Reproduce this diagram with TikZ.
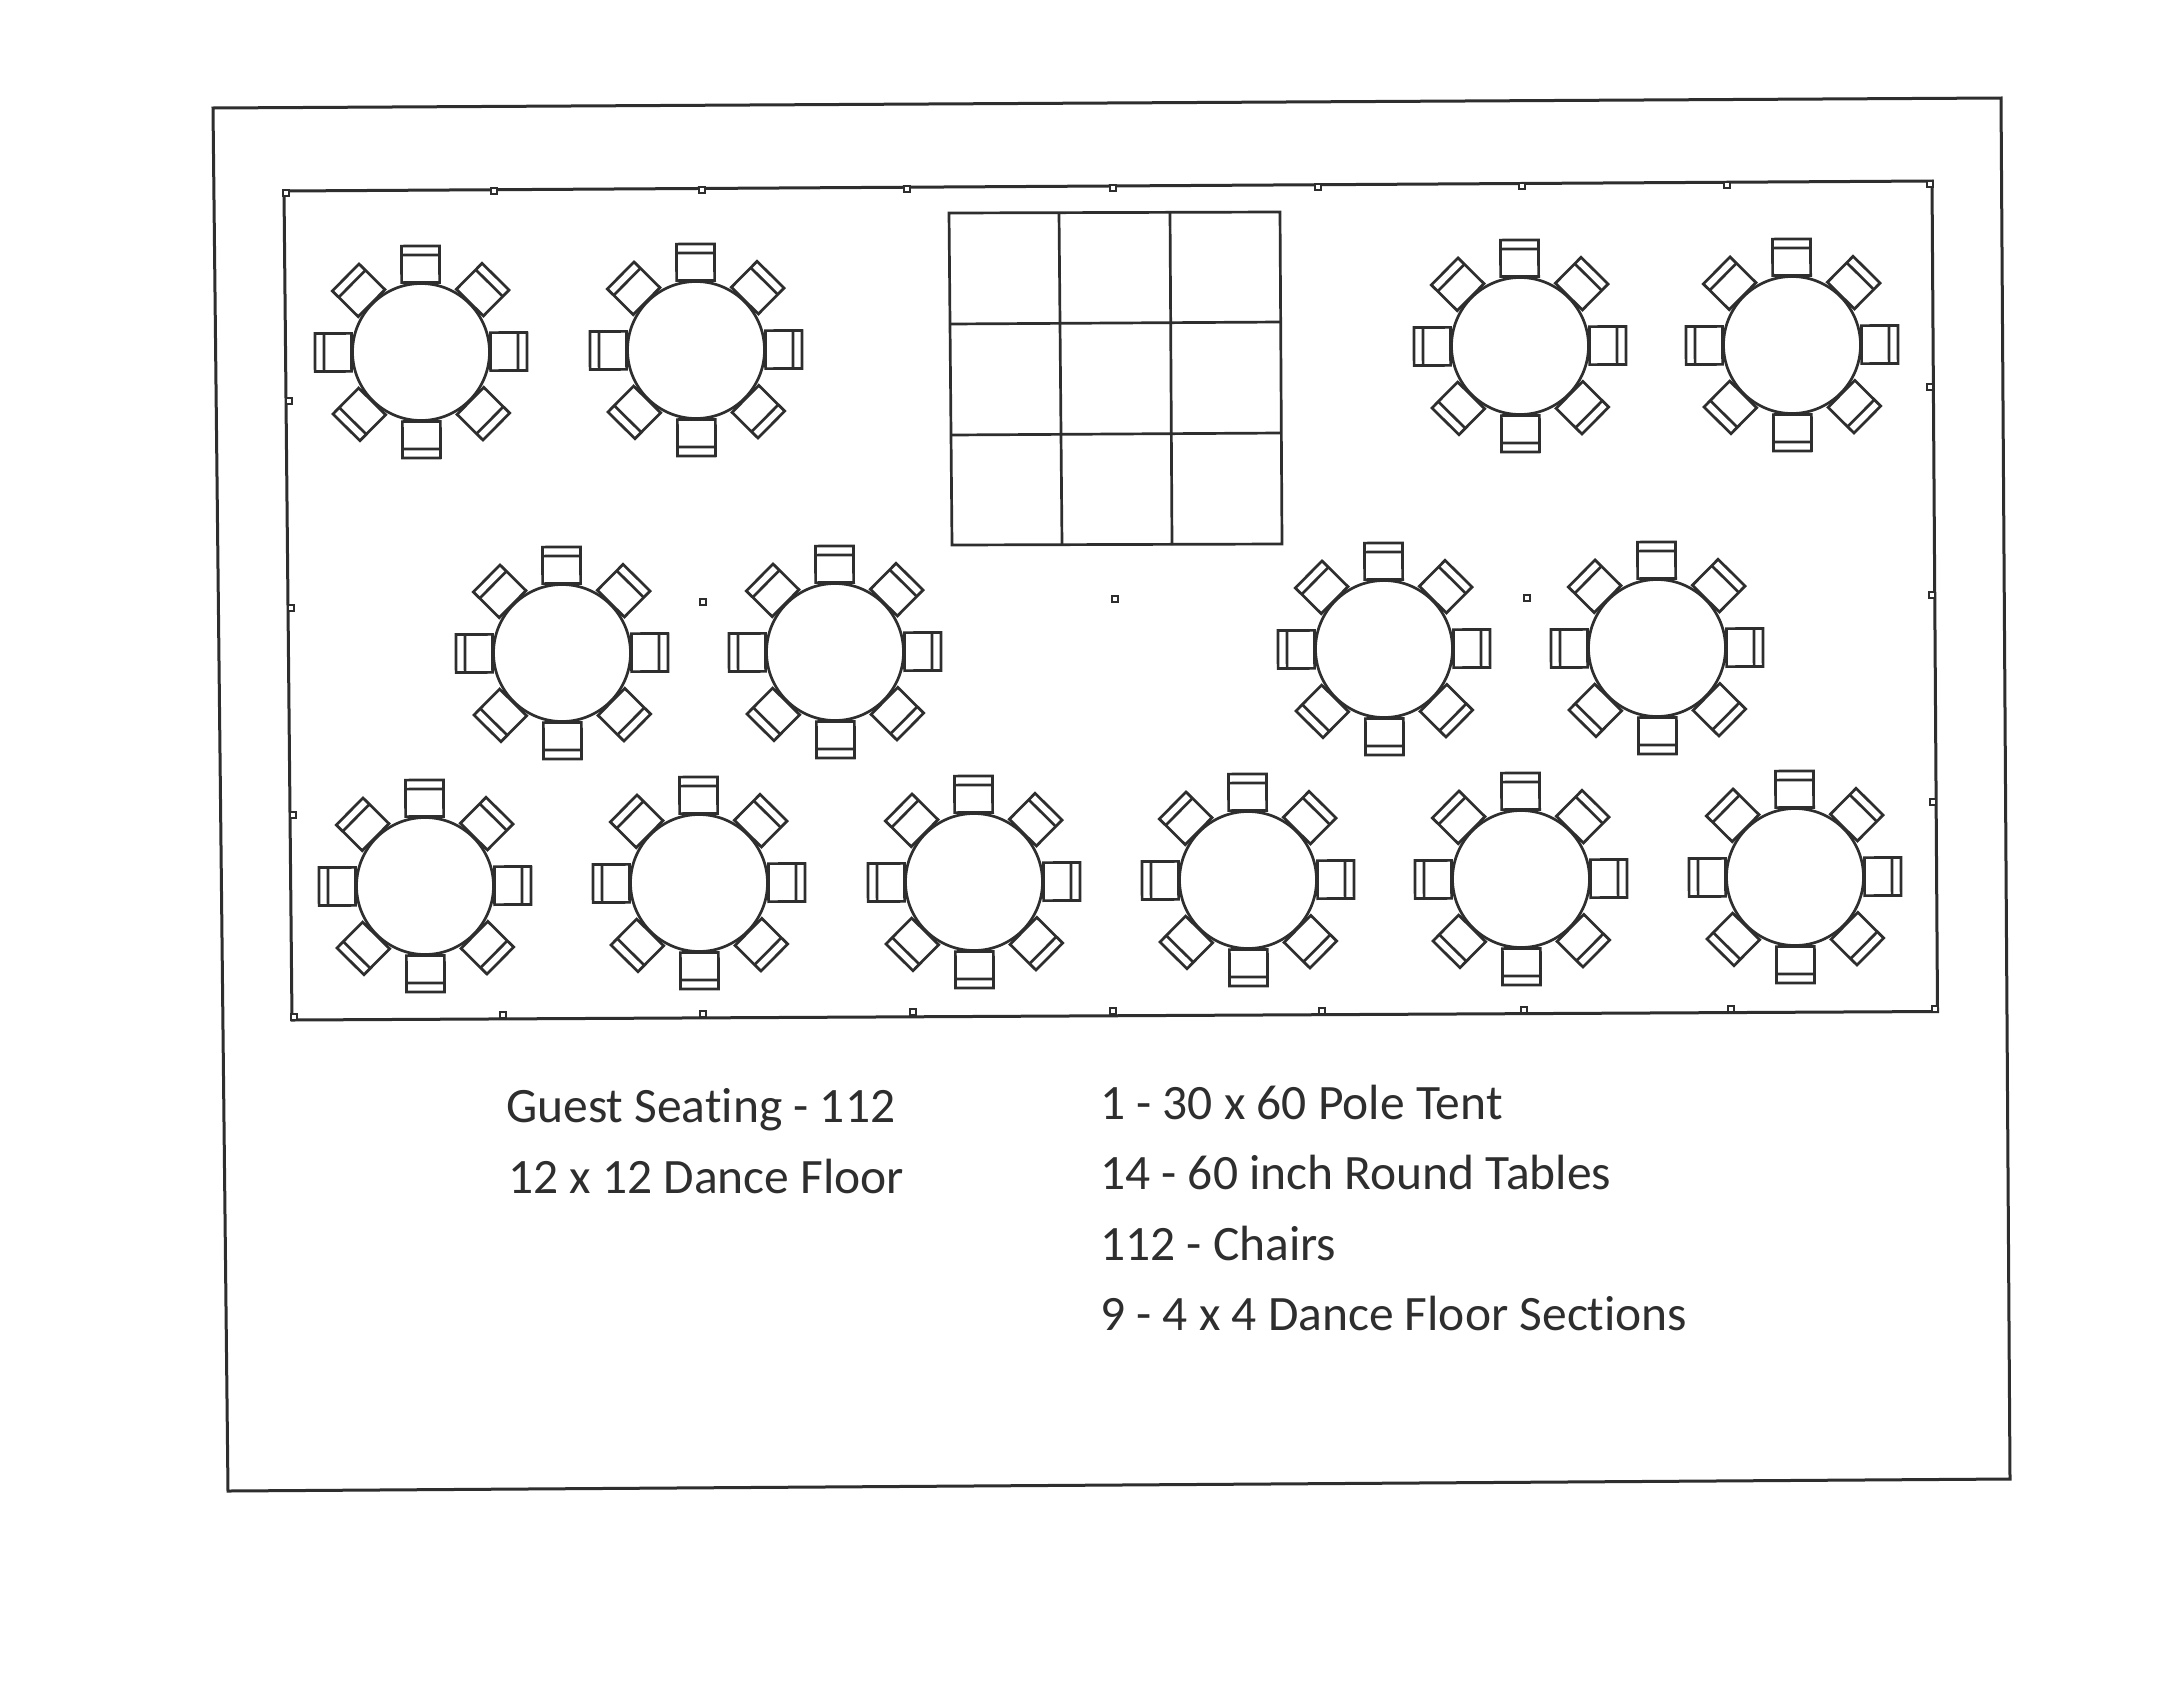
\documentclass[tikz,border=0pt]{standalone}
\usepackage{fontspec}
\setmainfont[Ligatures=NoCommon]{Carlito}
\definecolor{ink}{HTML}{2E2E2E}
\tikzset{
  x=1pt,y=-1pt,
  tentline/.style={draw=ink,line width=3pt,line join=miter},
  seatline/.style={draw=ink,line width=2.7pt},
  floorline/.style={draw=ink,line width=2.7pt},
  polebox/.style={draw=ink,line width=2.2pt,fill=white},
  label/.style={text=ink,font=\fontsize{49.5}{49.5}\selectfont,anchor=base west,inner sep=0pt},
}
\newcommand{\polemark}[2]{\draw[polebox] (#1-2.7,#2-2.7) rectangle (#1+2.7,#2+2.7);}
\newcommand{\seat}[2]{%
  \foreach \ang in {0,45,...,315}{%
    \begin{scope}[shift={(#1,#2)},rotate=\ang+0.3]
      \draw[seatline] (69.5,-19) rectangle (106,19);
      \draw[seatline] (97,-19) -- (97,19);
    \end{scope}}%
  \draw[seatline,fill=white] (#1,#2) circle[radius=68.5];}
\begin{document}
\begin{tikzpicture}
\useasboundingbox (0,0) rectangle (2170,1700);
\fill[white] (0,0) rectangle (2170,1700);
% outer frame
\draw[tentline] (213,108) -- (2001,98) -- (2010,1479) -- (228,1491) -- cycle;
% tent
\draw[tentline] (284,191) -- (1932,181) -- (1937.5,1011.5) -- (292,1020) -- cycle;
% poles
\foreach \px/\py in {286/193,494/191,702/190,907/189,1113/188,1318/187,1522/186,1727/185,1930/184,
  294/1017,503/1015,703/1014,913/1012,1113/1011,1322/1011,1524/1010,1731/1009,1935/1009,
  289/401,291/608,293/815,1930/387,1932/595,1933/802,
  703/602,1115/599,1527/598}{\polemark{\px}{\py}}
% dance floor
\draw[floorline] (949,213) -- (1280,212) -- (1282,544) -- (952,545) -- cycle;
\draw[floorline] (1059,213) -- (1062,545);
\draw[floorline] (1170,212) -- (1172,545);
\draw[floorline] (950,324) -- (1281,322);
\draw[floorline] (951,435) -- (1281,433);
% tables
\foreach \tx/\ty in {421/352,696/350,1520/346,1792/345,
  562/653,835/652,1384/649,1657/648,
  425/886,699/883,974/882,1248/880,1521/879,1795/877}{\seat{\tx}{\ty}}
% labels
\node[label] (a) at (506,1122) {Guest Seating - 112};
\node[label] (b) at (508,1193) {12 x 12 Dance Floor};
\node[label] (c) at (1100,1119) {1 - 30 x 60 Pole Tent};
\node[label] (d) at (1100,1189) {14 - 60 inch Round Tables};
\node[label] (e) at (1100,1260) {112 - Chairs};
\node[label] (f) at (1100,1330) {9 - 4 x 4 Dance Floor Sections};
\end{tikzpicture}
\end{document}
